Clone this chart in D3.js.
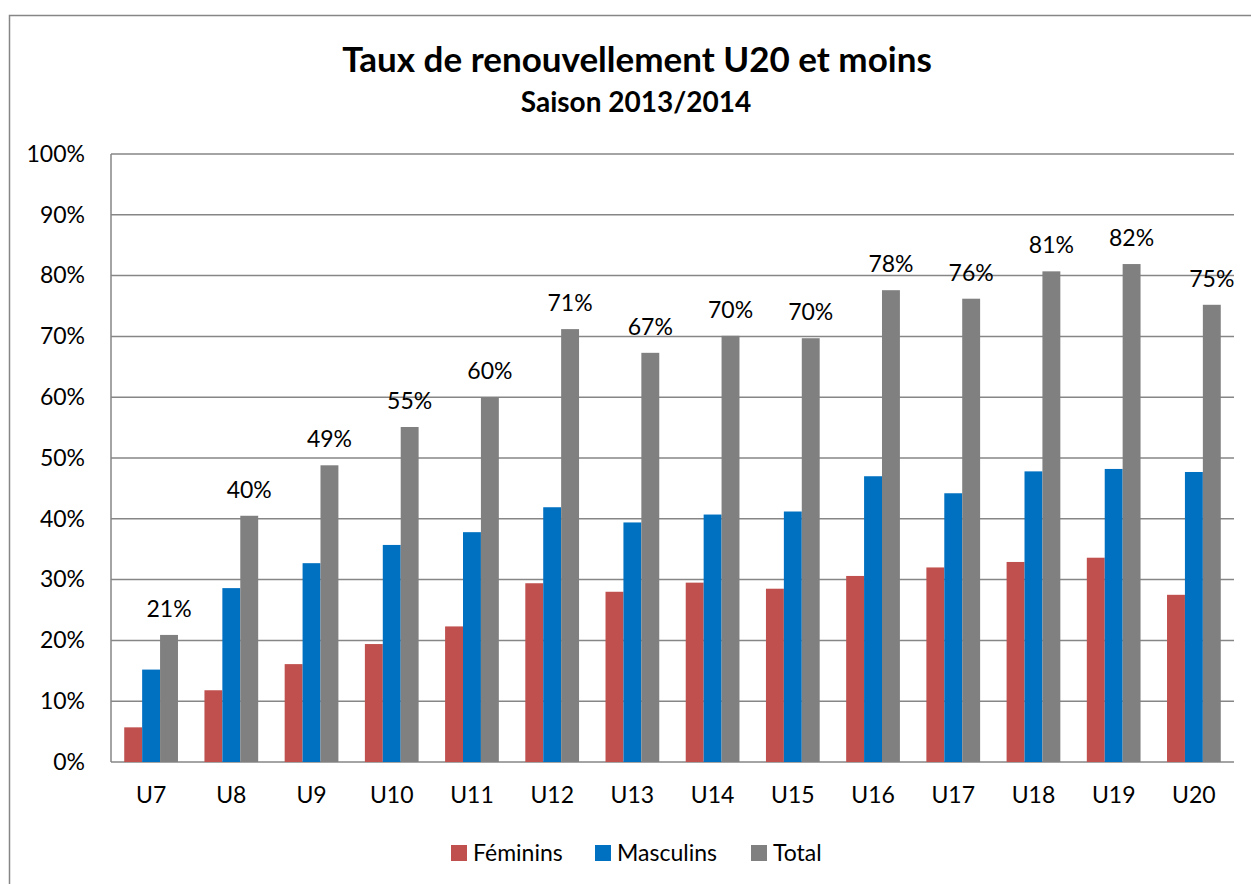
<!DOCTYPE html>
<html>
<head>
<meta charset="utf-8">
<script src="https://cdn.jsdelivr.net/npm/d3@7"></script>
<style>
  body { margin: 0; background: #fff; }
  text { font-family: Lato, "Open Sans", sans-serif; fill: #000; }
</style>
</head>
<body>
<div id="chart"></div>
<script>
// data (percent)
var categories = ["U7", "U8", "U9", "U10", "U11", "U12", "U13", "U14", "U15", "U16", "U17", "U18", "U19", "U20"];
var feminins  = [5.7, 11.8, 16.1, 19.4, 22.3, 29.4, 28.0, 29.5, 28.5, 30.6, 32.0, 32.9, 33.6, 27.5];
var masculins = [15.2, 28.6, 32.7, 35.7, 37.8, 41.9, 39.4, 40.7, 41.2, 47.0, 44.2, 47.8, 48.2, 47.7];
var total     = [20.9, 40.5, 48.8, 55.1, 60.0, 71.2, 67.3, 70.1, 69.7, 77.6, 76.2, 80.7, 81.9, 75.2];
var totalLabels = ["21%", "40%", "49%", "55%", "60%", "71%", "67%", "70%", "70%", "78%", "76%", "81%", "82%", "75%"];
var seriesNames = ["Féminins", "Masculins", "Total"];
var colors = ["#C0504D", "#0070C0", "#808080"];
var yTicks = [0, 10, 20, 30, 40, 50, 60, 70, 80, 90, 100];

var W = 1251, H = 884;
var margin = {top: 154, right: 17, bottom: 122, left: 111},
    width = W - margin.left - margin.right,
    height = H - margin.top - margin.bottom;

var svg = d3.select("#chart").append("svg")
    .attr("width", W)
    .attr("height", H);

// outer frame
svg.append("rect")
    .attr("x", 9.5).attr("y", 15.5)
    .attr("width", 1300).attr("height", 1000)
    .attr("fill", "none")
    .attr("stroke", "#868686")
    .attr("stroke-width", 1.5);

// titles
svg.append("text")
    .attr("x", 637).attr("y", 72)
    .attr("text-anchor", "middle")
    .style("font-size", "35px").style("font-weight", "bold")
    .text("Taux de renouvellement U20 et moins");
svg.append("text")
    .attr("x", 636).attr("y", 112)
    .attr("text-anchor", "middle")
    .style("font-size", "28px").style("font-weight", "bold")
    .text("Saison 2013/2014");

var g = svg.append("g")
    .attr("transform", `translate(${margin.left}, ${margin.top})`);

var x0 = d3.scaleBand().domain(categories).range([0, width]).paddingInner(0.33).paddingOuter(0.165);
var x1 = d3.scaleBand().domain(seriesNames).range([0, x0.bandwidth()]);
var y = d3.scaleLinear().domain([0, 100]).range([height, 0]);

// gridlines
g.selectAll("line.grid")
    .data(yTicks).enter()
  .append("line")
    .attr("class", "grid")
    .attr("x1", 0).attr("x2", width)
    .attr("y1", d => y(d)).attr("y2", d => y(d))
    .attr("stroke", "#868686")
    .attr("stroke-width", 1.5);

// y axis line
g.append("line")
    .attr("x1", 0).attr("x2", 0)
    .attr("y1", 0).attr("y2", height)
    .attr("stroke", "#868686")
    .attr("stroke-width", 1.5);

// y axis labels
var yAxis = g.append("g")
    .call(d3.axisLeft(y).tickValues(yTicks).tickFormat(d => d + "%").tickSize(0).tickPadding(26));
yAxis.select(".domain").remove();
yAxis.selectAll("text").style("font-size", "23px");

// x axis labels
var xAxis = g.append("g")
    .attr("transform", `translate(0, ${height})`)
    .call(d3.axisBottom(x0).tickSize(0).tickPadding(25));
xAxis.select(".domain").remove();
xAxis.selectAll("text").style("font-size", "23px");

// bars
var rows = categories.map((c, i) => ({cat: c, vals: [feminins[i], masculins[i], total[i]]}));

var groups = g.selectAll("g.cat")
    .data(rows).enter()
  .append("g")
    .attr("class", "cat")
    .attr("transform", d => `translate(${x0(d.cat)}, 0)`);

groups.selectAll("rect")
    .data(d => d.vals.map((v, j) => ({name: seriesNames[j], v: v, j: j})))
    .enter().append("rect")
    .attr("x", d => x1(d.name))
    .attr("y", d => y(d.v))
    .attr("width", x1.bandwidth())
    .attr("height", d => height - y(d.v))
    .attr("fill", d => colors[d.j]);

// labels over total bars
g.selectAll("text.lbl")
    .data(categories).enter()
  .append("text")
    .attr("class", "lbl")
    .attr("x", (d, i) => x0(d) + x1("Total") + x1.bandwidth() / 2)
    .attr("y", (d, i) => y(total[i]) - 18)
    .attr("text-anchor", "middle")
    .style("font-size", "23px")
    .text((d, i) => totalLabels[i]);

// legend
var legendX = [451, 595, 751];
var legend = svg.selectAll("g.legend")
    .data(seriesNames).enter()
  .append("g")
    .attr("class", "legend")
    .attr("transform", (d, i) => `translate(${legendX[i]}, 845)`);
legend.append("rect")
    .attr("width", 16).attr("height", 16)
    .attr("fill", (d, i) => colors[i]);
legend.append("text")
    .attr("x", 22).attr("y", 16)
    .style("font-size", "23px")
    .text(d => d);
</script>
</body>
</html>
